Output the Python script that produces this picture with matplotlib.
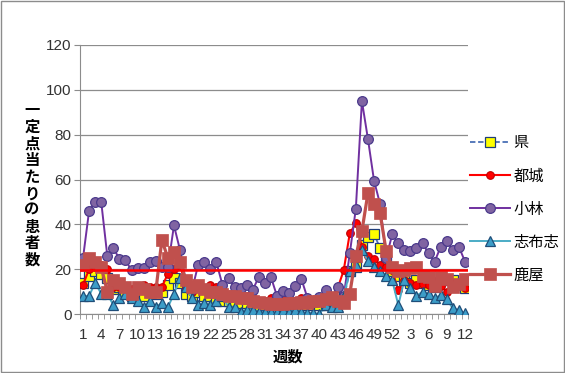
import matplotlib
matplotlib.use("Agg")
import matplotlib.pyplot as plt
from matplotlib.patches import Rectangle

plt.rcParams['font.family'] = ['Noto Sans CJK JP', 'DejaVu Sans']

weeks = [1, 2, 3, 4, 5, 6, 7, 8, 9, 10, 11, 12, 13, 14, 15, 16, 17, 18, 19, 20,
         21, 22, 23, 24, 25, 26, 27, 28, 29, 30, 31, 32, 33, 34, 35, 36, 37, 38, 39, 40,
         41, 42, 43, 44, 45, 46, 47, 48, 49, 50, 51, 52,
         1, 2, 3, 4, 5, 6, 7, 8, 9, 10, 11, 12]

ken = [14, 17, 19, 18, 16, 11, 12, 10, 8, 8, 8, 10, 9, 10, 13, 16, 14, 9, 8, 10,
       8, 8, 7, 6, 6, 6, 5, 5, 5, 4, 4, 4, 4, 4, 4, 4, 5, 4, 4, 4,
       4, 5, 5, 7, 19, 21, 31, 34.5, 35.5, 29.5, 24, 19,
       17, 15, 14, 15, 14, 13, 12, 15, 15, 15, 13, 11.5]

miyakonojo = [13, 20, 21, 22, 20, 12, 12, 11, 11, 12, 13, 12, 12, 12, 18, 20, 22, 12, 10, 12,
              11, 13, 12, 10, 8, 8, 9, 8, 7, 6, 6, 7, 6, 7, 6, 6, 7, 7, 6, 7,
              5, 6, 11.5, 19.5, 36, 40.5, 30, 26, 24.5, 22, 21, 19.5,
              10.5, 15, 14, 13, 13.5, 13, 14.5, 12.5, 10, 14, 14, 11.5]

kobayashi = [25, 46, 50, 50, 26, 29.5, 24.5, 24, 19.5, 20.5, 20.5, 23, 23.5, 21, 21, 39.5, 28.5, 14, 11, 22,
             23, 20, 23, 13, 16, 12, 11.5, 13, 10.7, 16.7, 14, 16.4, 8, 10.4, 9.5, 12.5, 15.8, 7.3, 5.5, 7.7,
             10.7, 7.3, 12, 8, 27, 47, 95, 78, 59.5, 49, 25, 35.5,
             31.5, 28.6, 28, 29.5, 31.5, 27, 23.4, 30, 32.4, 28.6, 30, 23.4]

shibushi = [8, 8, 14, 9, 9, 4, 7, 9, 7, 6, 3, 6, 3, 5, 3, 9, 16, 12, 7, 4,
            5, 4, 6, 8, 3, 3, 1, 2, 2, 1, 1, 1, 1, 2, 1, 2, 1, 0.5, 0.5, 0,
            4, 3, 3, 8, 19, 22, 28.5, 23.5, 21, 19, 17, 15,
            4, 15, 11.5, 8, 10, 9, 7, 8.5, 6.5, 2.5, 1.8, 0.3]

kanoya = [22, 25, 23, 21, 10, 15, 14, 12, 9, 12, 11, 10, 10, 33, 25, 27.5, 23, 15, 12, 13,
          11, 10, 10, 9, 8, 8, 7, 7, 6, 5.5, 5, 4.5, 4.5, 4.5, 5, 5, 5.5, 5, 6, 6,
          6.5, 7.5, 6, 5, 9, 26, 37, 54, 49, 45, 28, 21,
          19, 19.6, 20.5, 21, 17, 16.5, 12.5, 16.5, 15.6, 12, 13.4, 15.6]

threshold = 19.5
yticks = [0, 20, 40, 60, 80, 100, 120]

fig = plt.figure(figsize=(5.65, 3.73), dpi=100)
ax = fig.add_axes([80/565, 1-314/373, 388/565, 269/373])

x = list(range(len(weeks)))

ax.plot(x, ken, color='#4A6FB5', lw=1.3, ls=(0, (3, 1.5)), marker='s', ms=6.5,
        mfc='#FFFF00', mec='#1F3D7A', mew=0.9, label='県', zorder=3)
ax.plot(x, miyakonojo, color='#FF0000', lw=1.5, marker='o', ms=5.5,
        mfc='#FF0000', mec='#C00000', mew=0.8, label='都城', zorder=3)
ax.plot(x, kobayashi, color='#7030A0', lw=1.4, marker='o', ms=7,
        mfc='#8064A2', mec='#4B3A8C', mew=0.9, label='小林', zorder=3)
ax.plot(x, shibushi, color='#4BACC6', lw=1.4, marker='^', ms=6.5,
        mfc='#3C9DC8', mec='#1F4E79', mew=0.9, label='志布志', zorder=3)
ax.plot(x, kanoya, color='#C0504D', lw=2.3, marker='s', ms=8,
        mfc='#C0504D', mec='#C0504D', mew=0.5, label='鹿屋', zorder=3)

ax.axhline(threshold, color='#FF0000', lw=1.8, zorder=5)

ax.set_xlim(-0.5, len(weeks) - 0.5)
ax.set_ylim(0, 120)
ax.set_yticks(yticks)
ax.set_yticklabels([str(v) for v in yticks], family=['Liberation Sans', 'DejaVu Sans'])
ax.yaxis.grid(True, color='#8C8C8C', lw=0.9)
ax.set_axisbelow(True)

major = list(range(0, len(weeks), 3))
ax.set_xticks(major)
ax.set_xticklabels([str(weeks[i]) for i in major], family=['Liberation Sans', 'DejaVu Sans'])
ax.set_xticks([i - 0.5 for i in range(len(weeks) + 1)], minor=True)
ax.tick_params(axis='x', which='major', length=0, pad=10, labelsize=11, colors='#333333')
ax.tick_params(axis='x', which='minor', length=3.5, color='#8C8C8C', direction='out')
ax.tick_params(axis='y', length=4, pad=2, labelsize=11, colors='#333333')
ax.tick_params(axis='y', color='#8C8C8C')

for s in ['top', 'right']:
    ax.spines[s].set_visible(False)
for s in ['left', 'bottom']:
    ax.spines[s].set_color('#8C8C8C')

ylabel = '一定点当たりの患者数'
fig.text(32/565, 1-185/373, '\n'.join(ylabel), ha='center', va='center',
         fontsize=11, fontweight='bold', linespacing=1.05)
fig.text(288/565, 1-357/373, '週数', ha='center', va='center',
         fontsize=11, fontweight='bold')

fig.legend(loc='center left', bbox_to_anchor=(470/565, 1-209/373), frameon=False,
           fontsize=11, labelspacing=1.05, handlelength=2.6, handletextpad=0.25,
           borderpad=0, borderaxespad=0)

fig.patches.append(Rectangle((0.002, 0.003), 0.996, 0.994, transform=fig.transFigure,
                             fill=False, edgecolor='#8C8C8C', lw=1))

fig.savefig('out.png', dpi=100)
